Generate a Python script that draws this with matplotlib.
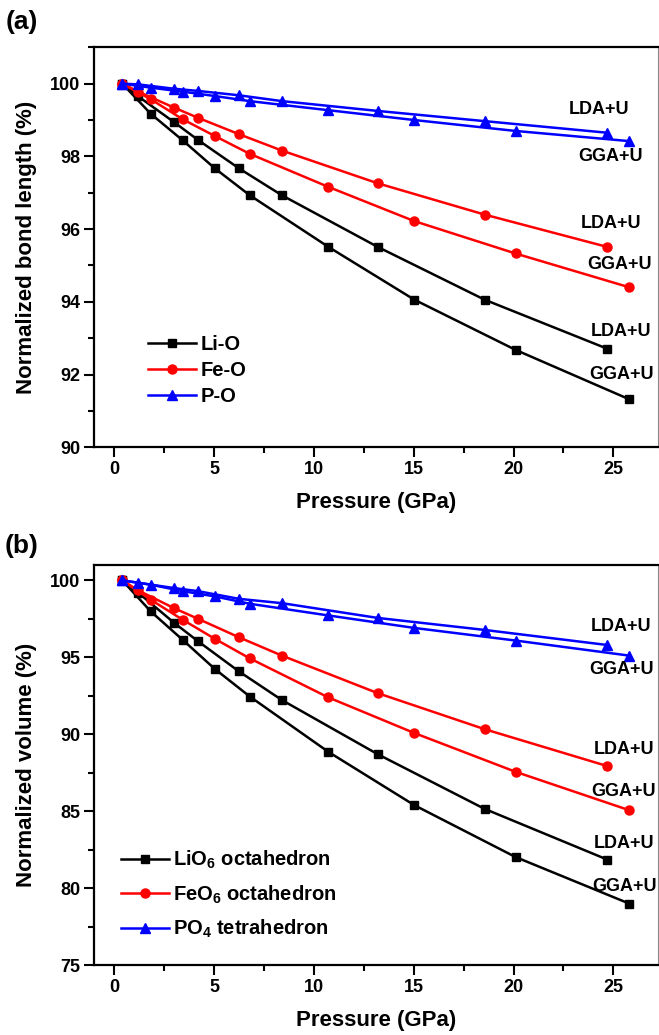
import matplotlib
matplotlib.use("Agg")
import matplotlib.pyplot as plt
from matplotlib.ticker import MultipleLocator

plt.rcParams['font.family'] = ['Liberation Sans', 'DejaVu Sans']
plt.rcParams['font.weight'] = 'bold'
plt.rcParams['axes.labelweight'] = 'bold'
plt.rcParams['mathtext.fontset'] = 'custom'
plt.rcParams['mathtext.rm'] = 'Liberation Sans:bold'
plt.rcParams['mathtext.bf'] = 'Liberation Sans:bold'
plt.rcParams['mathtext.default'] = 'bf'

# pressures (GPa) of the two functionals
p_lda = [0.4, 1.2, 3.0, 4.2, 6.25, 8.4, 13.2, 18.55, 24.7]
p_gga = [0.4, 1.83, 3.43, 5.04, 6.79, 10.73, 15.03, 20.1, 25.8]

# (a) normalized bond length (%)
lio_lda = [100, 99.65, 98.94, 98.45, 97.67, 96.93, 95.51, 94.06, 92.71]
lio_gga = [100, 99.17, 98.44, 97.67, 96.93, 95.51, 94.06, 92.68, 91.32]
feo_lda = [100, 99.78, 99.34, 99.06, 98.61, 98.16, 97.26, 96.40, 95.51]
feo_gga = [100, 99.57, 99.02, 98.56, 98.07, 97.16, 96.22, 95.33, 94.40]
po_lda = [100, 99.98, 99.86, 99.80, 99.68, 99.52, 99.25, 98.97, 98.65]
po_gga = [100, 99.89, 99.78, 99.66, 99.52, 99.27, 99.00, 98.70, 98.42]

# (b) normalized polyhedron volume (%)
lio6_lda = [100, 99.2, 97.24, 96.04, 94.08, 92.22, 88.70, 85.15, 81.85]
lio6_gga = [100, 97.98, 96.13, 94.24, 92.45, 88.85, 85.39, 82.02, 78.99]
feo6_lda = [100, 99.35, 98.19, 97.50, 96.30, 95.11, 92.67, 90.33, 87.93]
feo6_gga = [100, 98.74, 97.44, 96.20, 94.93, 92.39, 90.08, 87.56, 85.06]
po4_lda = [100, 99.85, 99.50, 99.30, 98.80, 98.52, 97.56, 96.78, 95.80]
po4_gga = [100, 99.72, 99.30, 98.96, 98.48, 97.72, 96.91, 96.09, 95.11]

labels_a = ['Li-O', 'Fe-O', 'P-O']
labels_b = [r'LiO$_6$ octahedron', r'FeO$_6$ octahedron', r'PO$_4$ tetrahedron']
colors = ['black', 'red', 'blue']
markers = ['s', 'o', '^']
msizes = [5.5, 6.5, 7]

# label positions (P, value) next to the curve ends
ann_a = [(25.4, 93.19, 'LDA+U'), (25.4, 92.0, 'GGA+U'),
         (24.9, 96.15, 'LDA+U'), (25.3, 95.03, 'GGA+U'),
         (24.3, 99.28, 'LDA+U'), (24.85, 98.0, 'GGA+U')]
ann_b = [(25.55, 82.93, 'LDA+U'), (25.55, 80.1, 'GGA+U'),
         (25.55, 89.02, 'LDA+U'), (25.5, 86.3, 'GGA+U'),
         (25.4, 97.0, 'LDA+U'), (25.4, 94.24, 'GGA+U')]

fig = plt.figure(figsize=(6.59, 10.35), dpi=100)
ax1 = fig.add_axes([0.1431, 0.5678, 0.8558, 0.3865])
ax2 = fig.add_axes([0.1431, 0.0676, 0.8558, 0.3865])


def draw(ax, series, labels, ann):
    for i, (lda, gga) in enumerate(series):
        ax.plot(p_lda, lda, color=colors[i], marker=markers[i], ms=msizes[i],
                lw=1.8, label=labels[i])
        ax.plot(p_gga, gga, color=colors[i], marker=markers[i], ms=msizes[i],
                lw=1.8)
    for x, y, t in ann:
        ax.text(x, y, t, fontsize=13, ha='center', va='center')
    ax.set_xlim(-1.0, 27.25)
    ax.xaxis.set_major_locator(MultipleLocator(5))
    ax.xaxis.set_minor_locator(MultipleLocator(2.5))
    ax.tick_params(which='both', direction='out', top=False, right=False,
                   labelsize=13, width=1.5, pad=3)
    ax.tick_params(which='major', length=7)
    ax.tick_params(which='minor', length=4)
    for s in ['left', 'bottom', 'top']:
        ax.spines[s].set_linewidth(1.6)
    ax.spines['right'].set_linewidth(0.8)
    ax.spines['right'].set_color('#888888')
    ax.set_xlabel('Pressure (GPa)', fontsize=16, labelpad=10)


draw(ax1, [(lio_lda, lio_gga), (feo_lda, feo_gga), (po_lda, po_gga)],
     labels_a, ann_a)
ax1.set_ylim(90, 101.0)
ax1.yaxis.set_major_locator(MultipleLocator(2))
ax1.yaxis.set_minor_locator(MultipleLocator(1))
ax1.set_ylabel('Normalized bond length (%)', fontsize=16)
ax1.yaxis.set_label_coords(-0.102, 0.5)
ax1.legend(loc='upper left', bbox_to_anchor=(0.095, 0.28), frameon=False,
           fontsize=14.5, handlelength=2.4, handletextpad=0.2,
           labelspacing=0.35, borderpad=0, borderaxespad=0)

draw(ax2, [(lio6_lda, lio6_gga), (feo6_lda, feo6_gga), (po4_lda, po4_gga)],
     labels_b, ann_b)
ax2.set_ylim(75, 101.0)
ax2.yaxis.set_major_locator(MultipleLocator(5))
ax2.yaxis.set_minor_locator(MultipleLocator(2.5))
ax2.set_ylabel('Normalized volume (%)', fontsize=16)
ax2.yaxis.set_label_coords(-0.102, 0.5)
ax2.legend(loc='upper left', bbox_to_anchor=(0.047, 0.29), frameon=False,
           fontsize=14.5, handlelength=2.4, handletextpad=0.2,
           labelspacing=0.6, borderpad=0, borderaxespad=0)

fig.text(22 / 659, 1 - 22 / 1035, '(a)', fontsize=19, ha='center', va='center')
fig.text(22 / 659, 1 - 546 / 1035, '(b)', fontsize=19, ha='center', va='center')

fig.savefig('out.png', dpi=100)
